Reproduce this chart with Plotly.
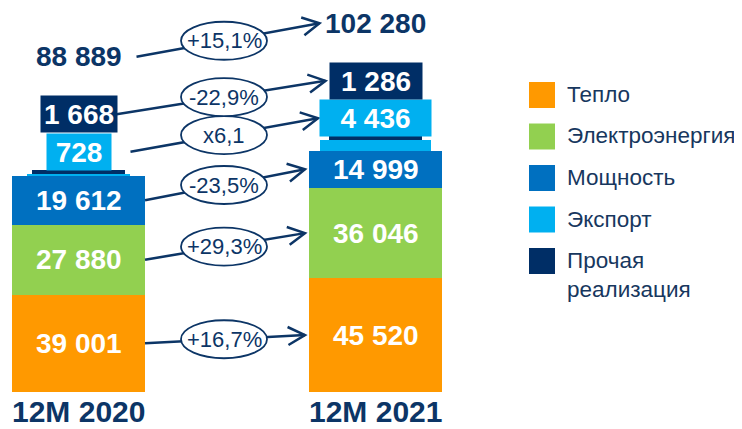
import math
import plotly.graph_objects as go

# ---------------- data ----------------
categories = ["12M 2020", "12M 2021"]
series_names = ["Тепло", "Электроэнергия", "Мощность", "Экспорт", "Прочая<br>реализация"]
teplo = [39001, 45520]
elektro = [27880, 36046]
moshchnost = [19612, 14999]
eksport = [728, 4436]
prochaya = [1668, 1286]
totals = [88889, 102280]
change_labels = ["+16,7%", "+29,3%", "-23,5%", "x6,1", "-22,9%"]
total_change = "+15,1%"

series = [teplo, elektro, moshchnost, eksport, prochaya]
colors = ["#FF9900", "#92D050", "#0070C0", "#00B0F0", "#002E66"]

# ---------------- layout constants ----------------
# the page body adds an 8px offset, so the figure is 8px smaller than the window
OFF = 8
W, H = 742 - OFF, 429 - OFF
PLOT_BOTTOM = 392                 # window px of the value axis baseline
MB = 429 - PLOT_BOTTOM
PLOT_H = H - MB
S = 0.0025                        # px per value unit
YMAX = PLOT_H / S
UX = 297.0                        # px per category unit
C0 = 78.5                         # window px of the first category centre
XR = [(OFF - C0) / UX, (742 - C0) / UX]
BW = 0.448
widths = [[BW, BW], [BW, BW], [BW, BW], [0.35, 0.374], [0.313, 0.313]]
NAVY = "#0C3566"
BOLD_FONT = "Liberation Sans, Arial, sans-serif"
REG_FONT = "Liberation Sans, Arial, sans-serif"
NUM_SIZE = 28
xs = [0, 1]


def fmt(v):
    return f"{v:,}".replace(",", " ")


def dx_px(p):
    return p / UX


fig = go.Figure()
for name, vals, col, wd in zip(series_names, series, colors, widths):
    fig.add_trace(go.Bar(x=xs, y=vals, name=name, width=wd, marker=dict(color=col, line=dict(width=0)),
                         showlegend=False, hoverinfo="skip"))

annotations = []
shapes = []

cum = [[0, 0]]
for vals in series:
    cum.append([cum[-1][i] + vals[i] for i in range(2)])

# labels in the three large segments
centers = []
for k in range(3):
    c = [cum[k][i] + series[k][i] / 2 for i in range(2)]
    centers.append(c)
    for i in range(2):
        annotations.append(dict(x=xs[i], y=c[i], text=fmt(series[k][i]), showarrow=False,
                                font=dict(family=BOLD_FONT, size=NUM_SIZE, color="white", weight=700)))

# boxed labels for the two small segments, stacked above the bar
box_off = [18, 55.5]              # px above stack top (box centre)
box_h = [36, 36]
box_w = [[64, 111], [76, 92]]
box_centers = []
for j, k in enumerate([3, 4]):
    c = [totals[i] + box_off[j] / S for i in range(2)]
    box_centers.append(c)
    for i in range(2):
        annotations.append(dict(x=xs[i], y=c[i], text=fmt(series[k][i]), showarrow=False,
                                width=box_w[j][i], height=box_h[j], bgcolor=colors[k], borderpad=0,
                                align="center", valign="middle",
                                font=dict(family=BOLD_FONT, size=NUM_SIZE, color="white", weight=700)))

# totals
TOT_OFF = 113
tot_y = [totals[i] + TOT_OFF / S for i in range(2)]
for i in range(2):
    annotations.append(dict(x=xs[i], y=tot_y[i], text=fmt(totals[i]), showarrow=False,
                            font=dict(family=BOLD_FONT, size=NUM_SIZE, color=NAVY, weight=700)))

# category labels under the bars
for i in range(2):
    annotations.append(dict(x=xs[i], y=0, yshift=-19, text=categories[i], showarrow=False,
                            yanchor="middle",
                            font=dict(family=BOLD_FONT, size=30, color=NAVY, weight=700)))

# change arrows
arrows = []
for k in range(3):
    arrows.append(((xs[0] + BW / 2, centers[k][0]), (xs[1] - BW / 2 - dx_px(4), centers[k][1]),
                   change_labels[k]))
arrows.append(((xs[0] + widths[3][0] / 2, box_centers[0][0]),
               (xs[1] - dx_px(box_w[0][1] / 2 + 2), box_centers[0][1]), change_labels[3]))
arrows.append(((xs[0] + dx_px(box_w[1][0] / 2), box_centers[1][0]),
               (xs[1] - dx_px(box_w[1][1] / 2 + 4), box_centers[1][1]), change_labels[4]))
arrows.append(((xs[0] + dx_px(58), tot_y[0]), (xs[1] - dx_px(56), tot_y[1]), total_change))

MID_X = (224 - C0) / UX
AL, AWID = 17, 9
for (x0, y0), (x1, y1), lab in arrows:
    shapes.append(dict(type="line", xref="x", yref="y", x0=x0, y0=y0, x1=x1, y1=y1,
                       line=dict(color=NAVY, width=2.5)))
    ddx = (x1 - x0) * UX
    ddy = (y1 - y0) * S
    L = math.hypot(ddx, ddy)
    ux, uy = ddx / L, ddy / L
    nx, ny = -uy, ux
    p1 = (-AL * ux + AWID * nx, -AL * uy + AWID * ny)
    p2 = (-AL * ux - AWID * nx, -AL * uy - AWID * ny)
    shapes.append(dict(type="path", xref="x", yref="y", xsizemode="pixel", ysizemode="pixel",
                       xanchor=x1, yanchor=y1,
                       path=f"M{p1[0]:.1f},{p1[1]:.1f} L0,0 L{p2[0]:.1f},{p2[1]:.1f}",
                       line=dict(color=NAVY, width=2.5)))
    t = (MID_X - x0) / (x1 - x0)
    my = y0 + t * (y1 - y0)
    shapes.append(dict(type="circle", xref="x", yref="y", xsizemode="pixel", ysizemode="pixel",
                       xanchor=MID_X, yanchor=my, x0=-43, x1=43, y0=-19, y1=19,
                       fillcolor="white", line=dict(color=NAVY, width=1.8)))
    annotations.append(dict(x=MID_X, y=my, text=lab, showarrow=False,
                            font=dict(family=REG_FONT, size=22, color=NAVY)))


# custom legend with large square swatches (window px -> paper coords)
def pxx(p):
    return (p - OFF) / W


def pxy(p):
    return (PLOT_BOTTOM - p) / PLOT_H


for i, (name, col) in enumerate(zip(series_names, colors)):
    cy = 95 + i * 41.5
    shapes.append(dict(type="rect", xref="paper", yref="paper", x0=pxx(529), x1=pxx(555),
                       y0=pxy(cy + 13), y1=pxy(cy - 13), fillcolor=col, line=dict(width=0)))
    annotations.append(dict(xref="paper", yref="paper", x=pxx(565), y=pxy(cy - 15), xanchor="left",
                            yanchor="top", text=name, showarrow=False, align="left",
                            font=dict(family=REG_FONT, size=22.5, color="#17375E")))

fig.update_layout(
    width=W, height=H,
    margin=dict(l=0, r=0, t=0, b=MB),
    paper_bgcolor="white", plot_bgcolor="white",
    barmode="stack",
    xaxis=dict(range=XR, tickvals=xs, showticklabels=False, showgrid=False, zeroline=False,
               showline=False, ticks="", fixedrange=True),
    yaxis=dict(range=[0, YMAX], visible=False, showgrid=False, zeroline=False),
    annotations=annotations,
    shapes=shapes,
    showlegend=False,
)

fig.write_html("out.html")
